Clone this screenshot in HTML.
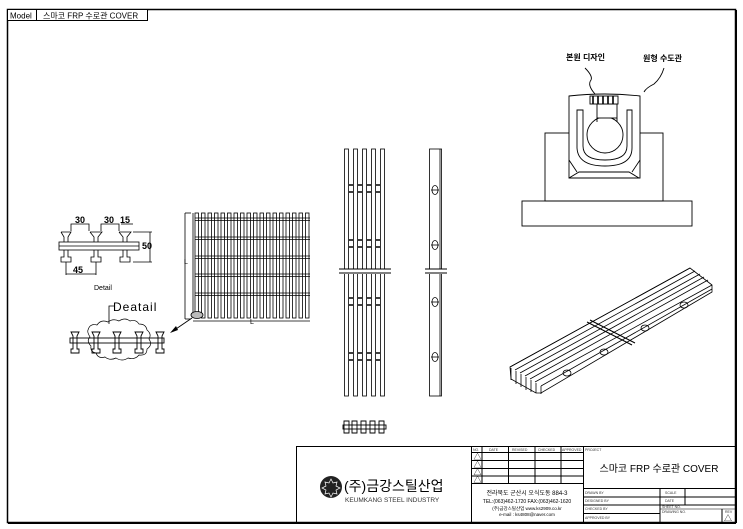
<!DOCTYPE html>
<html><head><meta charset="utf-8"><style>
html,body{margin:0;padding:0;background:#fff;}
svg{display:block;font-family:"Liberation Sans","Noto Sans CJK KR",sans-serif;}
</style></head><body>
<svg width="743" height="529" viewBox="0 0 743 529" xmlns="http://www.w3.org/2000/svg">
<rect x="0" y="0" width="743" height="529" fill="#fff"/>
<rect x="7.5" y="9.5" width="728" height="513" fill="none" stroke="#000" stroke-width="1.5"/>
<line x1="736" y1="10" x2="736" y2="523" stroke="#000" stroke-width="2"/>
<line x1="8" y1="523" x2="736" y2="523" stroke="#000" stroke-width="2"/>
<rect x="7.5" y="9.5" width="140" height="11" fill="#fff" stroke="#000" stroke-width="1"/>
<line x1="36.5" y1="9.5" x2="36.5" y2="20.5" stroke="#000"/>
<text x="10" y="18.5" font-size="8">Model</text>
<text x="43" y="18.5" font-size="8">스마코 FRP 수로관 COVER</text>

<!-- Detail -->
<g stroke="#000" fill="none" stroke-width="0.8">
<polyline points="71,231 71,224 89,224 89,231"/>
<polyline points="101,231 101,224 119,224 119,231"/>
<line x1="121" y1="224" x2="133" y2="224"/>
<line x1="133" y1="232" x2="152" y2="232"/><line x1="133" y1="262" x2="152" y2="262"/>
<line x1="150" y1="232" x2="150" y2="262"/>
<line x1="66" y1="262" x2="66" y2="275"/><line x1="96" y1="262" x2="96" y2="275"/><line x1="66" y1="274" x2="96" y2="274"/>
<rect x="59" y="242" width="80" height="8"/>
<line x1="59" y1="246" x2="139" y2="246"/>
<path d="M61,232 h10 l-3,5 v5 M68,250 v7 h3 v5 h-10 v-5 h3 v-7 M64,242 v-5 l-3,-5"/>
<path d="M90,232 h12 l-4,5 v5 M98,250 v7 h3 v5 h-10 v-5 h3 v-7 M94,242 v-5 l-4,-5"/>
<path d="M119,232 h12 l-4,5 v5 M127,250 v7 h3 v5 h-10 v-5 h3 v-7 M123,242 v-5 l-4,-5"/>
</g>
<g font-size="9" font-weight="bold" fill="#000">
<text x="75" y="223">30</text><text x="104" y="223">30</text><text x="120" y="223">15</text>
<text x="142" y="249">50</text><text x="73" y="273">45</text>
</g>
<text x="94" y="290" font-size="7">Detail</text>

<!-- Deatail cloud -->
<path d="M88,330 q2,-7 9,-5 q4,-6 11,-3 q5,-4 11,-1 q6,-4 11,0 q6,-2 9,3 q7,0 8,6 q5,4 2,9 q4,6 -2,10 q0,7 -8,6 q-4,5 -11,3 q-6,4 -12,0 q-6,3 -11,-1 q-7,2 -9,-4 q-6,-1 -5,-7 q-5,-5 -1,-9 q-3,-5 -2,-7z" fill="none" stroke="#000" stroke-width="0.7"/>
<text x="113" y="311" font-size="12" letter-spacing="1">Deatail</text>
<polyline points="114,306 109,306 109,324" fill="none" stroke="#000" stroke-width="0.8"/>
<g stroke="#000" fill="none" stroke-width="0.9">
<rect x="70" y="338" width="94" height="5"/>
<path d="M71,332 h8 l-2,4 v13 h2 v4 h-8 v-4 h2 v-13z"/>
<path d="M92,332 h8 l-2,4 v13 h2 v4 h-8 v-4 h2 v-13z"/>
<path d="M113,332 h8 l-2,4 v13 h2 v4 h-8 v-4 h2 v-13z"/>
<path d="M135,332 h8 l-2,4 v13 h2 v4 h-8 v-4 h2 v-13z"/>
<path d="M156,332 h8 l-2,4 v13 h2 v4 h-8 v-4 h2 v-13z"/>
</g>
<line x1="192" y1="318" x2="173" y2="331" stroke="#000" stroke-width="0.9"/>
<polygon points="170,333 176,326 178,330" fill="#000"/>

<!-- Grating panel -->
<g stroke="#000" fill="none" stroke-width="0.8">
<line x1="185" y1="213" x2="185" y2="319"/><line x1="185" y1="213" x2="191" y2="213"/><line x1="185" y1="319" x2="191" y2="319"/>
<line x1="193" y1="321" x2="310" y2="321"/>
<line x1="193" y1="213" x2="193" y2="318"/>
</g>
<g stroke="#000" fill="#fff" stroke-width="0.8">
<rect x="195" y="213" width="3.5" height="105"/>
<rect x="201.5" y="213" width="3.5" height="105"/>
<rect x="208" y="213" width="3.5" height="105"/><rect x="214.5" y="213" width="3.5" height="105"/>
<rect x="221" y="213" width="3.5" height="105"/><rect x="227.5" y="213" width="3.5" height="105"/>
<rect x="234" y="213" width="3.5" height="105"/><rect x="240.5" y="213" width="3.5" height="105"/>
<rect x="247" y="213" width="3.5" height="105"/><rect x="253.5" y="213" width="3.5" height="105"/>
<rect x="260" y="213" width="3.5" height="105"/><rect x="266.5" y="213" width="3.5" height="105"/>
<rect x="273" y="213" width="3.5" height="105"/><rect x="279.5" y="213" width="3.5" height="105"/>
<rect x="286" y="213" width="3.5" height="105"/><rect x="292.5" y="213" width="3.5" height="105"/>
<rect x="299" y="213" width="3.5" height="105"/><rect x="305.5" y="213" width="3.5" height="105"/>
</g>
<g stroke="#000" stroke-width="0.8">
<line x1="195" y1="218" x2="310" y2="218"/><line x1="195" y1="220.5" x2="310" y2="220.5"/>
<line x1="195" y1="237" x2="310" y2="237"/><line x1="195" y1="239.5" x2="310" y2="239.5"/>
<line x1="195" y1="256" x2="310" y2="256"/><line x1="195" y1="258.5" x2="310" y2="258.5"/>
<line x1="195" y1="274" x2="310" y2="274"/><line x1="195" y1="276.5" x2="310" y2="276.5"/>
<line x1="195" y1="293" x2="310" y2="293"/><line x1="195" y1="295.5" x2="310" y2="295.5"/>
</g>
<ellipse cx="197" cy="315" rx="6" ry="3.5" fill="#bbb" stroke="#000" stroke-width="0.8"/>
<text x="184" y="264" font-size="7">L</text>
<text x="250" y="324" font-size="7">L</text>

<!-- vertical bars -->
<g stroke="#000" fill="none" stroke-width="0.8">
<rect x="344.5" y="149" width="4" height="247"/><rect x="353.5" y="149" width="4" height="247"/>
<rect x="362.5" y="149" width="4" height="247"/><rect x="371.5" y="149" width="4" height="247"/>
<rect x="380.5" y="149" width="4" height="247"/>
<rect x="429.5" y="149" width="12" height="247"/>
<line x1="440" y1="149" x2="440" y2="396"/>
</g>
<g stroke="#000" stroke-width="1.6">
<path d="M349,185 h4 M358,185 h4 M367,185 h4 M376,185 h4 M349,192 h4 M358,192 h4 M367,192 h4 M376,192 h4"/>
<path d="M349,240 h4 M358,240 h4 M367,240 h4 M376,240 h4 M349,247 h4 M358,247 h4 M367,247 h4 M376,247 h4"/>
<path d="M349,298 h4 M358,298 h4 M367,298 h4 M376,298 h4 M349,305 h4 M358,305 h4 M367,305 h4 M376,305 h4"/>
<path d="M349,353 h4 M358,353 h4 M367,353 h4 M376,353 h4 M349,360 h4 M358,360 h4 M367,360 h4 M376,360 h4"/>
</g>
<rect x="338" y="269" width="54" height="5" fill="#fff"/>
<rect x="425" y="269" width="23" height="5" fill="#fff"/>
<g stroke="#000" stroke-width="0.9">
<line x1="339" y1="269" x2="391" y2="269"/><line x1="339" y1="273" x2="391" y2="273"/>
<line x1="425" y1="269" x2="447" y2="269"/><line x1="425" y1="273" x2="447" y2="273"/>
</g>
<g stroke="#000" fill="#fff" stroke-width="0.8">
<ellipse cx="435" cy="190" rx="3" ry="4.5"/><line x1="431" y1="190" x2="439" y2="190"/>
<ellipse cx="435" cy="245" rx="3" ry="4.5"/><line x1="431" y1="245" x2="439" y2="245"/>
<ellipse cx="435" cy="302" rx="3" ry="4.5"/><line x1="431" y1="302" x2="439" y2="302"/>
<ellipse cx="435" cy="357" rx="3" ry="4.5"/><line x1="431" y1="357" x2="439" y2="357"/>
</g>
<g stroke="#000" fill="none" stroke-width="0.9">
<rect x="343" y="425" width="43" height="4"/>
<path d="M344,421 h5 v12 h-5z M352,421 h5 v12 h-5z M361,421 h5 v12 h-5z M370,421 h5 v12 h-5z M379,421 h5 v12 h-5z"/>
</g>

<!-- cross section right top -->
<g stroke="#000" fill="none" stroke-width="0.9">
<rect x="522" y="201" width="170" height="25"/>
<rect x="545" y="133" width="118" height="68"/>
<path d="M569,96 q36,-4 71,0 v82 h-71z" fill="#fff"/>
<path d="M569,160 l8,12 M640,160 l-8,12 M569,178 l10,-6 h50 l10,6"/>
<path d="M577,110 h6 v36 q0,14 22,14 q22,0 22,-14 v-36 h5 v38 q0,18 -27,18 q-27,0 -28,-18z"/>
<circle cx="605" cy="135" r="18"/>
<rect x="597" y="104" width="20" height="14" fill="#fff"/>
<path d="M597,118 v4 M617,118 v4"/>
<rect x="590" y="96" width="28" height="8" fill="#fff"/>
<path d="M593,96 v8 M598,96 v8 M603,96 v8 M608,96 v8 M613,96 v8" stroke-width="1.6"/>
<path d="M585,68 q8,8 6,12 q-4,5 4,14"/>
<path d="M664,68 q-3,10 -10,16 q-8,4 -10,8"/>
</g>
<text x="566" y="60" font-size="8" font-weight="bold">본원 디자인</text>
<text x="643" y="61" font-size="8" font-weight="bold">원형 수도관</text>

<!-- isometric -->
<g stroke="#000" fill="none" stroke-width="0.8">
<polygon points="510,367 690,268 712,285 712,292 541,393 536,393 511,379" fill="#fff"/>
<line x1="510" y1="367" x2="690" y2="268"/>
<line x1="515" y1="370" x2="695" y2="271"/>
<line x1="520" y1="373" x2="700" y2="274"/>
<line x1="525" y1="376" x2="704" y2="277"/>
<line x1="530" y1="379" x2="708" y2="280"/>
<line x1="535" y1="382" x2="712" y2="285"/>
<line x1="541" y1="386" x2="712" y2="289"/>
<line x1="511" y1="368" x2="511" y2="380"/><line x1="516" y1="371" x2="516" y2="384"/>
<line x1="521" y1="374" x2="521" y2="387"/><line x1="526" y1="377" x2="526" y2="390"/>
<line x1="531" y1="380" x2="531" y2="392"/><line x1="536" y1="383" x2="536" y2="393"/>
<line x1="541" y1="386" x2="541" y2="394"/>
<line x1="590" y1="320" x2="635" y2="343" stroke-width="1"/>
<line x1="587" y1="322" x2="632" y2="345" stroke-width="1"/>
<ellipse cx="567" cy="373" rx="4" ry="3"/><ellipse cx="604" cy="352" rx="4" ry="3"/>
<ellipse cx="645" cy="328" rx="4" ry="3"/><ellipse cx="684" cy="305" rx="4" ry="3"/>
</g>

<!-- title block -->
<g stroke="#000" fill="none" stroke-width="1">
<rect x="296.5" y="446.5" width="439" height="76"/>
<line x1="471.5" y1="446" x2="471.5" y2="523"/>
<line x1="583.5" y1="446" x2="583.5" y2="523"/>
<line x1="482" y1="446" x2="482" y2="483"/><line x1="508.5" y1="446" x2="508.5" y2="483"/>
<line x1="535" y1="446" x2="535" y2="483"/><line x1="561" y1="446" x2="561" y2="483"/>
<line x1="471" y1="452.5" x2="583" y2="452.5"/><line x1="471" y1="460.5" x2="583" y2="460.5"/>
<line x1="471" y1="468.5" x2="583" y2="468.5"/><line x1="471" y1="476" x2="583" y2="476"/>
<line x1="471" y1="483.5" x2="583" y2="483.5"/>
<line x1="583" y1="488.5" x2="736" y2="488.5"/><line x1="583" y1="497" x2="736" y2="497"/>
<line x1="583" y1="505" x2="736" y2="505"/><line x1="583" y1="513.5" x2="660" y2="513.5"/>
<line x1="660" y1="488" x2="660" y2="523"/><line x1="685" y1="488" x2="685" y2="505"/>
<line x1="660" y1="509" x2="736" y2="509" stroke-width="0.6"/>
<line x1="722" y1="509" x2="722" y2="523"/>
</g>
<g font-size="3.5" fill="#333">
<text x="473" y="451">NO.</text><text x="489" y="451">DATE</text><text x="512" y="451">REVISED</text>
<text x="538" y="451">CHECKED</text><text x="562" y="451">APPROVED</text>
<text x="585" y="451">PROJECT</text>
<text x="585" y="494">DRAWN BY</text><text x="585" y="502">DESIGNED BY</text>
<text x="585" y="510">CHECKED BY</text><text x="585" y="519">APPROVED BY</text>
<text x="665" y="494">SCALE</text><text x="665" y="502">DATE</text><text x="662" y="508">SHEET NO.</text>
<text x="662" y="513">DRAWING NO.</text><text x="725" y="513">REV</text>
</g>
<g font-size="8" fill="#000">
<text x="473.5" y="459.5">△</text><text x="473.5" y="467.5">△</text><text x="473.5" y="475">△</text><text x="473.5" y="482.5">△</text>
<text x="724" y="521">△</text>
</g>
<text x="659" y="472" font-size="10" text-anchor="middle">스마코 FRP 수로관 COVER</text>
<text x="527" y="495" font-size="6" text-anchor="middle">전라북도 군산시 오식도동 884-3</text>
<text x="527" y="503" font-size="5" text-anchor="middle">TEL:(063)462-1720 FAX:(063)462-1620</text>
<text x="527" y="510" font-size="4.5" text-anchor="middle">(주)금강스틸산업 www.ks2909.co.kr</text>
<text x="527" y="516" font-size="4.5" text-anchor="middle">e-mail : ks4808@naver.com</text>
<circle cx="331" cy="487" r="11" fill="#222"/>
<path d="M331,479 l2,4 4,-1 -1,4 4,2 -4,2 1,4 -4,-1 -2,4 -2,-4 -4,1 1,-4 -4,-2 4,-2 -1,-4 4,1z" fill="none" stroke="#fff" stroke-width="0.7"/>
<text x="344" y="491" font-size="14">(주)금강스틸산업</text>
<text x="345" y="502" font-size="6.5" fill="#333">KEUMKANG STEEL INDUSTRY</text>
</svg>
</body></html>
